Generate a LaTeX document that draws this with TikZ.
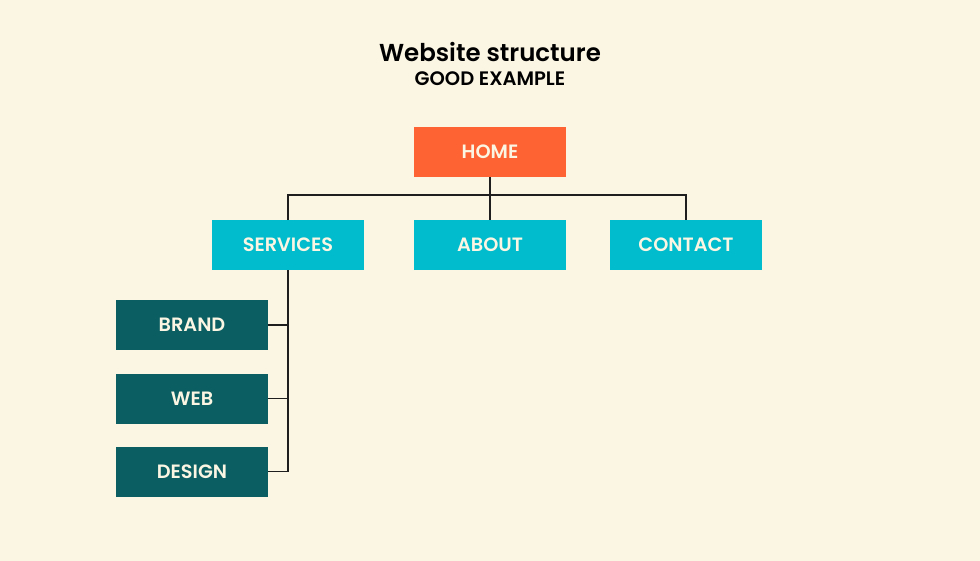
\documentclass[tikz,border=0pt]{standalone}
\usepackage{fontspec}
\setmainfont{Poppins}
\newfontfamily\titlefont{Poppins SemiBold}
\newfontfamily\labelfont{Poppins SemiBold}
\definecolor{bg}{HTML}{FBF5E3}
\definecolor{homec}{HTML}{FD6333}
\definecolor{cyanc}{HTML}{00BCCC}
\definecolor{tealc}{HTML}{0B5E62}
\definecolor{linec}{HTML}{1E1E1E}
\definecolor{txtc}{HTML}{FBF5E3}
\tikzset{
  box/.style={minimum width=152pt, minimum height=50pt, inner sep=0pt, text=txtc,
    font=\labelfont\fontsize{19.3}{20}\selectfont},
  homebox/.style={box, fill=homec},
  topbox/.style={box, fill=cyanc},
  subbox/.style={box, fill=tealc},
  conn/.style={draw=linec, line width=1.4pt}
}
\begin{document}
\begin{tikzpicture}[x=1pt,y=-1pt]
\fill[bg] (0,0) rectangle (980,561);
\useasboundingbox (0,0) rectangle (980,561);
\node[font=\titlefont\fontsize{24.5}{26}\selectfont, text=black] (title) at (490,52) {Website structure};
\node[font=\titlefont\fontsize{19.5}{20}\selectfont, text=black] (sub) at (490,78.5) {GOOD EXAMPLE};
\node[homebox] (home) at (490,152) {HOME};
\node[topbox] (services) at (288,245) {SERVICES};
\node[topbox] (about) at (490,245) {ABOUT};
\node[topbox] (contact) at (686,245) {CONTACT};
\node[subbox] (brand) at (192,325) {BRAND};
\node[subbox] (web) at (192,398.5) {WEB};
\node[subbox] (design) at (192,471.5) {DESIGN};
\coordinate (hub) at (490,195);
\draw[conn] (home.south) -- (about.north);
\draw[conn] (services.north) |- (hub) -| (contact.north);
\draw[conn] (services.south) |- (design.east);
\draw[conn] (brand.east) -| (services.south);
\draw[conn] (web.east) -| (services.south);
\end{tikzpicture}
\end{document}
